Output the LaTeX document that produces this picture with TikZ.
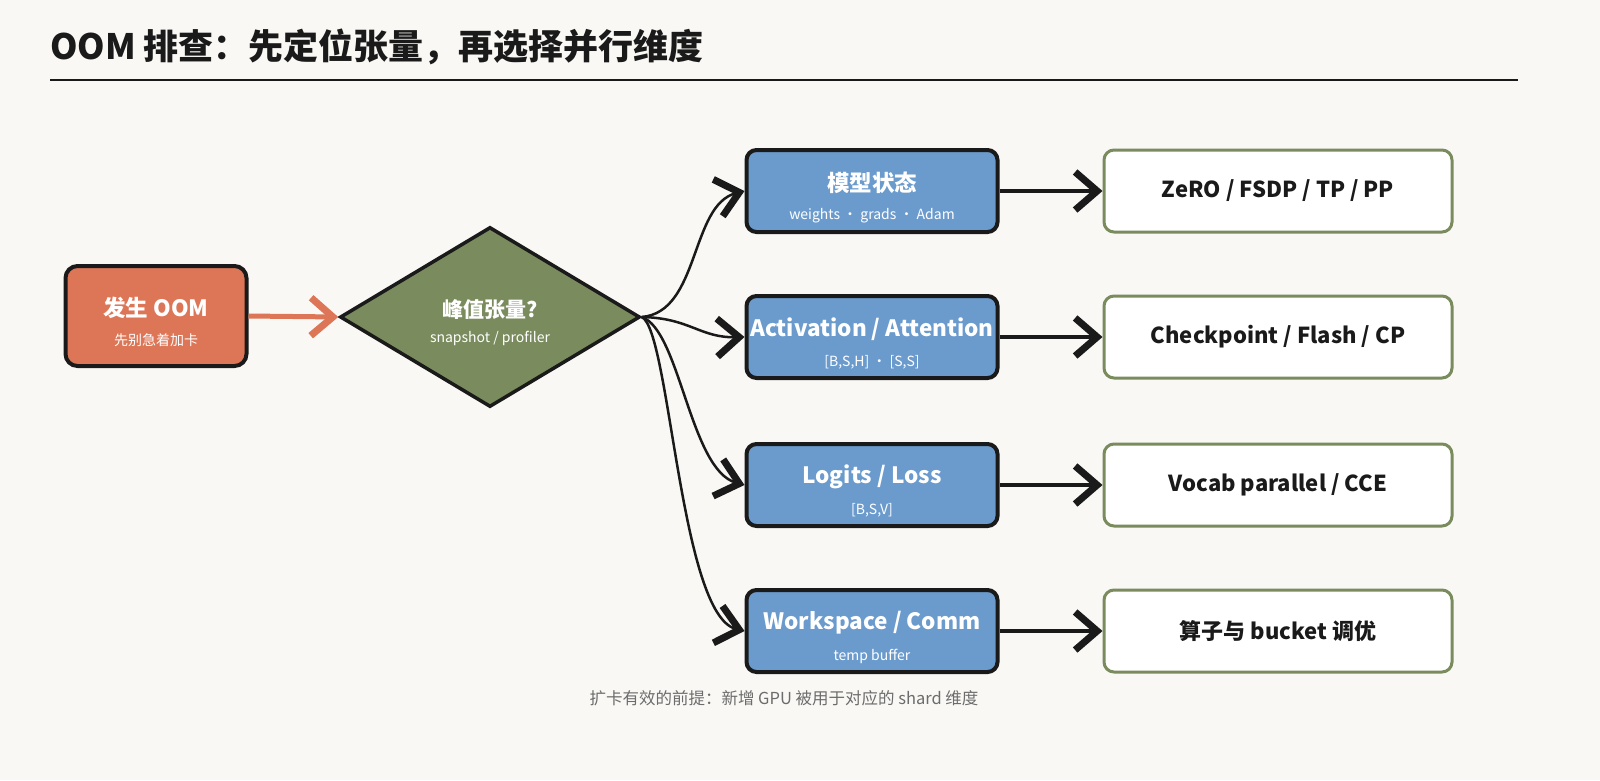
\documentclass[tikz,border=0pt]{standalone}
\usepackage{fontspec}
\setmainfont{Noto Sans CJK SC}
\usetikzlibrary{arrows.meta,shapes.geometric}
\definecolor{bg}{HTML}{F9F8F5}
\definecolor{oran}{HTML}{DC7657}
\definecolor{olive}{HTML}{7A8C5E}
\definecolor{blu}{HTML}{6B9BCD}
\definecolor{ink}{HTML}{1A1A1A}
\begin{document}
\begin{tikzpicture}[x=1pt,y=-1pt,
  tip/.style={-{Straight Barb[length=22pt,width=38pt,line width=7pt]}},
  bbox/.style={draw=ink,line width=4pt,fill=blu,rounded corners=10pt,minimum width=251pt,minimum height=82pt},
  gbox/.style={draw=olive,line width=3pt,fill=white,rounded corners=10pt,minimum width=348pt,minimum height=82pt,font=\fontsize{22}{26}\selectfont\bfseries,text=ink},
  conn/.style={draw=ink,line width=3.5pt,tip},
  curv/.style={draw=ink,line width=2.5pt,tip},
  ttl/.style={font=\fontsize{22.5}{26}\selectfont\bfseries,text=white},
  sub/.style={font=\fontsize{14}{16}\selectfont,text=white}]
\useasboundingbox (0,0) rectangle (1600,780);
\fill[bg] (0,0) rectangle (1600,780);
\node[anchor=west,font=\fontsize{35}{40}\selectfont\bfseries,text=ink,inner sep=0pt] (title) at (50,47) {OOM 排查：先定位张量，再选择并行维度};
\draw[ink,line width=2pt] (50,80) coordinate (l1) -- (1518,80) coordinate (l2);
% OOM box
\node[draw=ink,line width=4pt,fill=oran,rounded corners=12pt,minimum width=181pt,minimum height=100pt] (oom) at (156,316) {};
\node[ttl] (oomt) at (156,308) {发生 OOM};
\node[sub] (ooms) at (156,340) {先别急着加卡};
% diamond
\node[diamond,draw=ink,line width=3.5pt,fill=olive,minimum width=300pt,minimum height=180pt,inner sep=0pt,aspect=1.67] (dia) at (490,317) {};
\node[font=\fontsize{21}{24}\selectfont\bfseries,text=white] (diat) at (490,310) {峰值张量?};
\node[sub] (dias) at (490,338) {snapshot / profiler};
\draw[oran,line width=5pt,-{Straight Barb[length=22pt,width=38pt,line width=7pt]}] (oom.east) -- (dia.west);
% blue boxes
\node[bbox] (b1) at (872,191) {};
\node[ttl] at (872,183) {模型状态};
\node[sub] at (872,216) {weights · grads · Adam};
\node[bbox] (b2) at (872,337) {};
\node[ttl] at (872,329) {Activation / Attention};
\node[sub] at (872,362) {[B,S,H] · [S,S]};
\node[bbox] (b3) at (872,485) {};
\node[ttl] at (872,477) {Logits / Loss};
\node[sub] at (872,510) {[B,S,V]};
\node[bbox] (b4) at (872,631) {};
\node[ttl] at (872,623) {Workspace / Comm};
\node[sub] at (872,656) {temp buffer};
% green boxes
\node[gbox] (g1) at (1278,191) {ZeRO / FSDP / TP / PP};
\node[gbox] (g2) at (1278,337) {Checkpoint / Flash / CP};
\node[gbox] (g3) at (1278,485) {Vocab parallel / CCE};
\node[gbox] (g4) at (1278,631) {算子与 bucket 调优};
\draw[conn] (b1.east) -- (g1.west);
\draw[conn] (b2.east) -- (g2.west);
\draw[conn] (b3.east) -- (g3.west);
\draw[conn] (b4.east) -- (g4.west);
% curves
\draw[curv] (dia.east) .. controls (700,312) and (690,205) .. (b1.west);
\draw[curv] (dia.east) .. controls (690,318) and (700,338) .. (b2.west);
\draw[curv] (dia.east) .. controls (680,330) and (690,470) .. (b3.west);
\draw[curv] (dia.east) .. controls (670,330) and (680,615) .. (b4.west);
\node[font=\fontsize{16.5}{19}\selectfont,text=gray!85!black] (note) at (784,698) {扩卡有效的前提：新增 GPU 被用于对应的 shard 维度};
\end{tikzpicture}
\end{document}
